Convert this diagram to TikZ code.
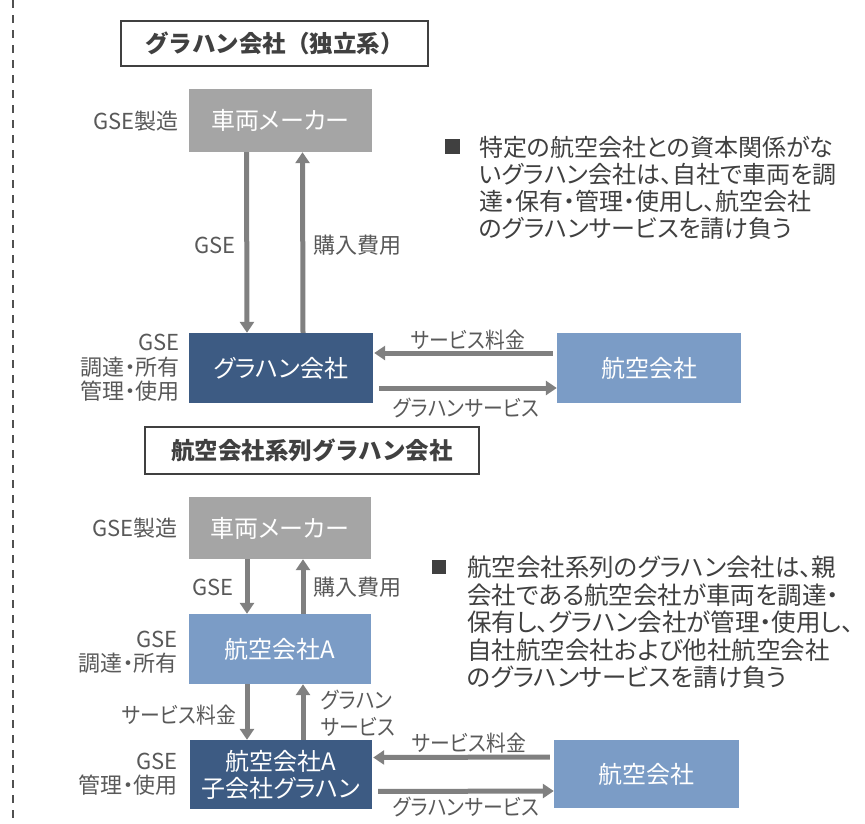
\documentclass[tikz,border=0pt]{standalone}
\usepackage{fontspec}
\setmainfont{Noto Sans CJK JP}[RawFeature=+palt]
\newfontfamily\plainjp{Noto Sans CJK JP}
\newfontfamily\narrowjp{Noto Sans CJK JP}[RawFeature=+palt, FakeStretch=0.9]
\usetikzlibrary{arrows.meta}
\definecolor{mkgray}{HTML}{A5A5A5}
\definecolor{darkblue}{HTML}{3D5B83}
\definecolor{lightblue}{HTML}{7B9CC6}
\definecolor{arrowgray}{HTML}{808080}
\definecolor{labelgray}{HTML}{595959}
\definecolor{textdark}{HTML}{404040}
\definecolor{framecol}{HTML}{404040}
\definecolor{dashcol}{HTML}{505050}
\begin{document}
\begin{tikzpicture}[x=1pt,y=-1pt,
  box/.style={inner sep=0pt, text=white, font=\fontsize{24}{27}\selectfont, align=center},
  titlebox/.style={draw=framecol, line width=1.5pt, fill=white, inner sep=0pt,
    font=\plainjp\bfseries\fontsize{23.5}{26}\selectfont, text=textdark},
  lbl/.style={text=labelgray, font=\fontsize{22}{24.5}\selectfont, inner sep=0pt},
  klbl/.style={text=labelgray, font=\narrowjp\fontsize{22}{24.5}\selectfont, inner sep=0pt},
  arr/.style={draw=arrowgray, line width=5pt, -{Triangle[width=14pt,length=11pt]}},
  bullettext/.style={text=textdark, align=left, inner sep=0pt, anchor=north west},
  sq/.style={fill=textdark, minimum size=15pt, inner sep=0pt},
  dashline/.style={draw=dashcol, line width=1.5pt, dash pattern=on 8pt off 7pt}]
\useasboundingbox (0,0) rectangle (865,823);
\fill[white] (0,0) rectangle (865,823);

% left dashed border
\coordinate (dtop) at (13,0);
\coordinate (dbot) at (13,823);
\draw[dashline] (dtop) -- (dbot);

% ---------- upper section ----------
\node[titlebox, minimum width=307pt, minimum height=45pt] (t1) at (274.5,43.5) {グラハン会社（独立系）};
\node[box, fill=mkgray, minimum width=183pt, minimum height=63pt] (mk1) at (280.5,120.5) {車両メーカー};
\node[box, fill=darkblue, minimum width=184pt, minimum height=70pt] (gh1) at (281,368) {グラハン会社};
\node[box, fill=lightblue, minimum width=184pt, minimum height=70pt] (air1) at (649,368) {航空会社};

\draw[arr] ([xshift=-34pt]mk1.south) -- ([xshift=-34pt]gh1.north);
\draw[arr] ([xshift=22pt]gh1.north) -- ([xshift=22pt]mk1.south);
\draw[arr, shorten <=4pt, shorten >=1pt] ([yshift=15pt]air1.west) -- ([yshift=15pt]gh1.east);
\draw[arr, shorten <=6pt] ([yshift=-20pt]gh1.east) -- ([yshift=-20pt]air1.west);

\node[lbl, anchor=east] (l1) at (179,121) {GSE製造};
\node[lbl] (l2) at (215,245) {GSE};
\node[lbl] (l3) at (357,245) {購入費用};
\node[lbl, anchor=east, align=right] (l4) at (180,368) {GSE\\調達・所有\\管理・使用};
\node[klbl] (l5) at (468,340) {サービス料金};
\node[klbl] (l6) at (466,408) {グラハンサービス};

\node[sq] (b1) at (452,146) {};
\node[bullettext, font=\fontsize{24}{27}\selectfont] (bt1) at (479,136)
  {特定の航空会社との資本関係がな\\いグラハン会社は、自社で車両を調\\達・保有・管理・使用し、航空会社\\のグラハンサービスを請け負う};

% ---------- lower section ----------
\node[titlebox, minimum width=334pt, minimum height=47pt] (t2) at (312,450.5) {航空会社系列グラハン会社};
\node[box, fill=mkgray, minimum width=182pt, minimum height=62pt] (mk2) at (280,528) {車両メーカー};
\node[box, fill=lightblue, minimum width=182pt, minimum height=70pt] (aA) at (280,649) {航空会社A};
\node[box, fill=darkblue, minimum width=182pt, minimum height=69pt] (sub) at (281,774.5) {航空会社A\\子会社グラハン};
\node[box, fill=lightblue, minimum width=185pt, minimum height=68pt] (air2) at (646.5,774) {航空会社};

\draw[arr] ([xshift=-33pt]mk2.south) -- ([xshift=-33pt]aA.north);
\draw[arr] ([xshift=23pt]aA.north) -- ([xshift=23pt]mk2.south);
\draw[arr] ([xshift=-33pt]aA.south) -- ([xshift=-34pt]sub.north);
\draw[arr] ([xshift=22pt]sub.north) -- ([xshift=23pt]aA.south);
\draw[arr, shorten <=4pt, shorten >=1pt] ([yshift=17pt]air2.west) -- ([yshift=17pt]sub.east);
\draw[arr, shorten <=6pt] ([yshift=-17pt]sub.east) -- ([yshift=-17pt]air2.west);

\node[lbl, anchor=east] (m1) at (178,528) {GSE製造};
\node[lbl] (m2) at (213,587) {GSE};
\node[lbl, anchor=west] (m3) at (313,587) {購入費用};
\node[lbl, anchor=east, align=right] (m4) at (178,652) {GSE\\調達・所有};
\node[klbl, anchor=east] (m5) at (236,715) {サービス料金};
\node[klbl, anchor=west, align=left, font=\narrowjp\fontsize{22}{27}\selectfont] (m6) at (321,713) {グラハン\\サービス};
\node[lbl, anchor=east, align=right] (m7) at (178,774) {GSE\\管理・使用};
\node[klbl] (m8) at (469,743) {サービス料金};
\node[klbl] (m9) at (466,807) {グラハンサービス};

\node[sq, minimum size=14pt] (b2) at (439,567) {};
\node[bullettext, font=\fontsize{24.5}{27.5}\selectfont] (bt2) at (467,556)
  {航空会社系列のグラハン会社は、親\\会社である航空会社が車両を調達・\\保有し、グラハン会社が管理・使用し、\\自社航空会社および他社航空会社\\のグラハンサービスを請け負う};
\end{tikzpicture}
\end{document}
